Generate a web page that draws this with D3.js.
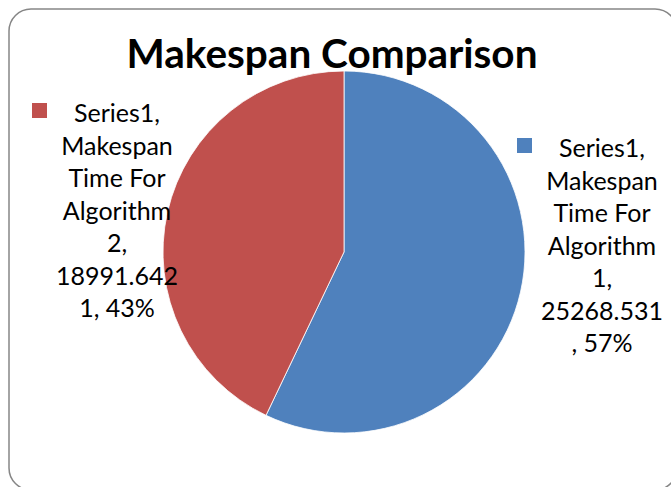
<!DOCTYPE html>
<html>
<head>
<meta charset="utf-8">
<script src="https://cdn.jsdelivr.net/npm/d3@7"></script>
<style>
  html, body { margin: 0; padding: 0; background: #fff; }
  svg { display: block; }
</style>
</head>
<body>
<svg id="chart" width="671" height="487"></svg>
<script>
// Makespan of the two scheduling algorithms
const categories = ["Makespan Time For Algorithm 1", "Makespan Time For Algorithm 2"];
const values = [25268.531, 18991.6421];
const seriesName = "Series1";
// Data label lines as they wrap beside each slice
const labelLines = [
  ["Series1,", "Makespan", "Time For", "Algorithm", "1,", "25268.531", ", 57%"],
  ["Series1,", "Makespan", "Time For", "Algorithm", "2,", "18991.642", "1, 43%"]
];
const colors = ["#4F81BD", "#C0504D"];

const W = 671, H = 487;
const svg = d3.select("#chart");
const font = "Lato, 'Open Sans', sans-serif";

// chart area frame (extends slightly past the page edge)
svg.append("rect")
  .attr("x", 9).attr("y", 9)
  .attr("width", 668).attr("height", 481)
  .attr("rx", 22).attr("ry", 22)
  .attr("fill", "#fff")
  .attr("stroke", "#868686")
  .attr("stroke-width", 1.5);

svg.append("text")
  .attr("x", 332).attr("y", 68)
  .attr("text-anchor", "middle")
  .attr("font-family", font)
  .attr("font-weight", "bold")
  .attr("font-size", 40.5)
  .attr("fill", "#000")
  .text("Makespan Comparison");

const cx = 344, cy = 252, r = 181;
const pie = d3.pie().sort(null).value(d => d)(values);
const arc = d3.arc().innerRadius(0).outerRadius(r);

svg.append("g")
  .attr("transform", `translate(${cx},${cy})`)
  .selectAll("path")
  .data(pie)
  .join("path")
  .attr("d", arc)
  .attr("fill", (d, i) => colors[i])
  .attr("stroke", "#fff")
  .attr("stroke-width", 0.8);

// data labels with legend keys
const labelPos = [
  { keyX: 517, keyY: 138, textX: 602, baseY: 157 },
  { keyX: 32, keyY: 103, textX: 117, baseY: 122 }
];
const lineStep = 32.5;

labelLines.forEach((lines, i) => {
  const p = labelPos[i];
  const g = svg.append("g").attr("class", "data-label");
  g.append("rect")
    .attr("x", p.keyX).attr("y", p.keyY)
    .attr("width", 15).attr("height", 15)
    .attr("fill", colors[i]);
  g.append("text")
    .attr("text-anchor", "middle")
    .attr("font-family", font)
    .attr("font-size", 25)
    .attr("fill", "#000")
    .selectAll("tspan")
    .data(lines)
    .join("tspan")
    .attr("x", p.textX)
    .attr("y", (d, k) => p.baseY + k * lineStep)
    .text(d => d);
});
</script>
</body>
</html>
